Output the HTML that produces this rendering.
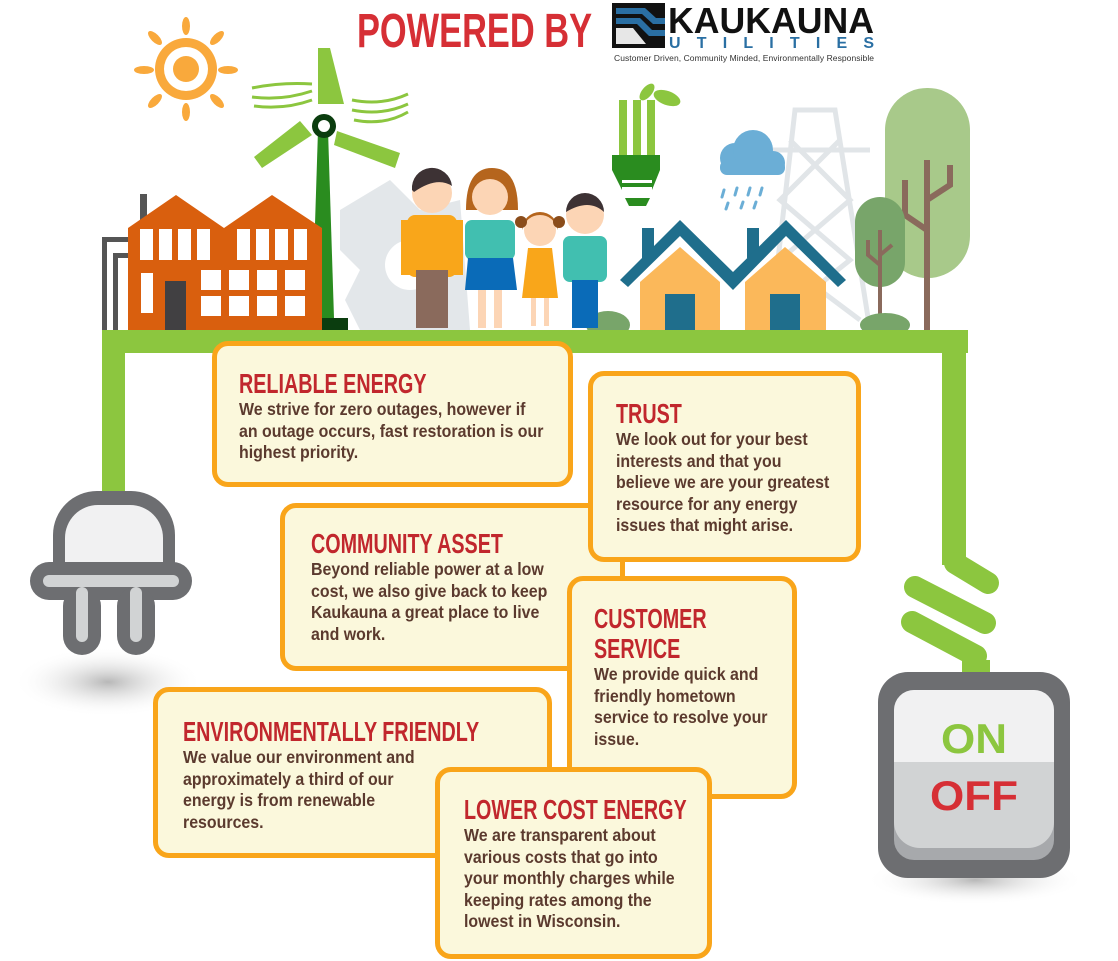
<!DOCTYPE html>
<html><head><meta charset="utf-8"><style>
body{margin:0;width:1118px;height:961px;background:#fff;position:relative;overflow:hidden;font-family:"Liberation Sans",sans-serif}
svg.bg{position:absolute;left:0;top:0}
.box{position:absolute;box-sizing:border-box;background:#fbf8dc;border:5px solid #f9a51a;border-radius:16px;padding:0 0 0 22px;overflow:hidden}
.box h2{margin:0;color:#c1272d;font-size:28px;font-weight:bold;line-height:30px;white-space:nowrap;transform:scaleX(0.705);transform-origin:0 0}
.box p{margin:0;color:#5b3a2e;font-size:17.5px;font-weight:bold;line-height:21.5px;white-space:nowrap;transform:scaleX(0.91);transform-origin:0 0}
</style></head><body>
<svg class="bg" width="1118" height="961" viewBox="0 0 1118 961">
<defs>
<radialGradient id="sh"><stop offset="0" stop-color="#999" stop-opacity=".7"/><stop offset="1" stop-color="#fff" stop-opacity="0"/></radialGradient>
</defs>
<text x="357" y="47" font-family="Liberation Sans,sans-serif" font-weight="bold" font-size="48" fill="#d62f35" textLength="235" lengthAdjust="spacingAndGlyphs">POWERED BY</text>
<rect x="612" y="3" width="53" height="45" fill="#111"/>
<path d="M616 8 L645 8 L656 18 L665 18 L665 24 L653 24 L642 14 L616 14Z" fill="#2a6fa3"/>
<path d="M616 18 L640 18 L652 30 L665 30 L665 36 L649 36 L637 24 L616 24Z" fill="#2a6fa3"/>
<path d="M616 28 L633 28 L646 44 L616 44Z" fill="#fff" opacity=".9"/>
<text x="668" y="33" font-family="Liberation Sans,sans-serif" font-weight="bold" font-size="36" fill="#111" textLength="206" lengthAdjust="spacingAndGlyphs">KAUKAUNA</text>
<text x="669" y="48" font-family="Liberation Sans,sans-serif" font-weight="bold" font-size="16" fill="#2a6fa3" textLength="205" lengthAdjust="spacing">UTILITIES</text>
<text x="614" y="61" font-family="Liberation Sans,sans-serif" font-size="8.5" fill="#333" textLength="260">Customer Driven, Community Minded, Environmentally Responsible</text>
<circle cx="186" cy="69" r="31" fill="#f9a93c"/>
<circle cx="186" cy="69" r="22" fill="#fff"/><circle cx="186" cy="69" r="13" fill="#f9a93c"/>
<g fill="#f9a93c">
<ellipse cx="186" cy="26" rx="4" ry="9"/><ellipse cx="186" cy="112" rx="4" ry="9"/>
<ellipse cx="144" cy="70" rx="10" ry="4"/><ellipse cx="228" cy="70" rx="10" ry="4"/>
<ellipse cx="155" cy="38" rx="4" ry="9" transform="rotate(-45 155 38)"/><ellipse cx="217" cy="38" rx="4" ry="9" transform="rotate(45 217 38)"/>
<ellipse cx="155" cy="101" rx="4" ry="9" transform="rotate(45 155 101)"/><ellipse cx="217" cy="101" rx="4" ry="9" transform="rotate(-45 217 101)"/>
</g>
<g stroke="#8cc63f" stroke-width="3" fill="none">
<path d="M252 88 q30 -6 60 -4"/><path d="M252 97 q30 4 60 -6"/><path d="M254 106 q30 4 58 -6"/>
<path d="M352 100 q30 6 56 -6"/><path d="M352 110 q30 6 56 -6"/><path d="M354 120 q30 6 54 -8"/>
</g>
<polygon points="318,130 328,130 334,318 312,318" fill="#2a8c1f"/>
<rect x="322" y="318" width="26" height="12" fill="#0b3d0f"/>
<polygon points="318,48 330,48 344,104 318,104" fill="#8cc63f"/>
<polygon points="254,157 300,121 312,135 262,168" fill="#8cc63f"/>
<polygon points="337,131 400,153 395,168 334,145" fill="#8cc63f"/>
<circle cx="324" cy="126" r="12" fill="#0b3d0f"/><circle cx="324" cy="126" r="6" fill="#fff"/>
<path d="M340 210 L390 180 L420 210 L460 200 L470 330 L360 330 L345 300 L360 270 L340 250Z" fill="#e3e7ea"/>
<circle cx="410" cy="265" r="25" fill="#fff"/>
<g fill="#555"><rect x="102" y="237" width="5" height="93"/><rect x="102" y="237" width="26" height="5"/><rect x="113" y="253" width="5" height="77"/><rect x="113" y="253" width="15" height="5"/><rect x="140" y="194" width="7" height="30"/></g>
<polygon points="128,228 176,195 224,228 272,195 322,228 322,330 128,330" fill="#d95f0e"/>
<g fill="#fff">
<rect x="140" y="229" width="13" height="31"/><rect x="159" y="229" width="13" height="31"/><rect x="178" y="229" width="13" height="31"/><rect x="197" y="229" width="13" height="31"/>
<rect x="237" y="229" width="13" height="31"/><rect x="256" y="229" width="13" height="31"/><rect x="275" y="229" width="13" height="31"/><rect x="294" y="229" width="13" height="31"/>
<rect x="141" y="273" width="12" height="40"/>
<rect x="201" y="270" width="20" height="20"/><rect x="229" y="270" width="20" height="20"/><rect x="257" y="270" width="20" height="20"/><rect x="285" y="270" width="20" height="20"/>
<rect x="201" y="296" width="20" height="20"/><rect x="229" y="296" width="20" height="20"/><rect x="257" y="296" width="20" height="20"/><rect x="285" y="296" width="20" height="20"/>
</g>
<rect x="165" y="281" width="21" height="49" fill="#414042"/>
<g stroke="#e1e5e8" stroke-width="5" fill="none">
<path d="M770 330 L795 110 L835 110 L870 330"/><path d="M760 150 L870 150"/><path d="M790 140 L850 200 L780 260 L860 320"/><path d="M840 140 L780 200 L850 260 L775 320"/>
</g>
<g fill="#8cc63f"><rect x="619" y="100" width="8" height="55"/><rect x="633" y="100" width="8" height="55"/><rect x="647" y="100" width="8" height="55"/></g>
<path d="M612 155 L660 155 L660 170 L652 190 L622 190 L612 170Z" fill="#2a8c1f"/>
<rect x="622" y="180" width="30" height="3" fill="#fff"/><rect x="622" y="187" width="30" height="3" fill="#fff"/>
<path d="M625 198 L650 198 L646 206 L629 206Z" fill="#2a8c1f"/>
<ellipse cx="667" cy="98" rx="14" ry="7" fill="#8cc63f" transform="rotate(20 667 98)"/>
<ellipse cx="647" cy="92" rx="10" ry="5" fill="#8cc63f" transform="rotate(-50 647 92)"/>
<g fill="#6baed6"><circle cx="735" cy="158" r="15"/><circle cx="753" cy="150" r="20"/><circle cx="773" cy="163" r="12"/><rect x="720" y="160" width="65" height="15" rx="7"/></g>
<g stroke="#6baed6" stroke-width="3" stroke-linecap="round"><path d="M724 190 l-2 7"/><path d="M737 188 l-2 7"/><path d="M750 188 l-2 7"/><path d="M762 188 l-2 7"/><path d="M728 203 l-2 6"/><path d="M743 202 l-2 6"/><path d="M756 202 l-2 6"/></g>
<rect x="885" y="88" width="85" height="190" rx="42" fill="#a8c98a"/>
<g stroke="#8a6a5c" stroke-width="6" fill="none"><path d="M927 330 L927 160"/><path d="M927 230 L905 215 L905 180"/><path d="M927 200 L950 185 L950 165"/></g>
<rect x="855" y="197" width="50" height="90" rx="25" fill="#78a56a"/>
<g stroke="#8a6a5c" stroke-width="4" fill="none"><path d="M880 320 L880 230"/><path d="M880 265 L868 255 L868 240"/><path d="M880 255 L892 245"/></g>
<ellipse cx="608" cy="325" rx="22" ry="14" fill="#78a56a"/><ellipse cx="885" cy="325" rx="25" ry="12" fill="#78a56a"/>
<g fill="#1f6e8c">
<rect x="642" y="228" width="12" height="30"/><rect x="747" y="228" width="12" height="30"/>
<path d="M620 280 L680 220 L733 272 L786 220 L846 280 L838 287 L786 236 L733 290 L680 236 L628 287Z"/>
</g>
<polygon points="640,282 680,247 720,282 720,330 640,330" fill="#fbb85a"/>
<polygon points="745,282 785,247 826,282 826,330 745,330" fill="#fbb85a"/>
<rect x="665" y="294" width="30" height="36" fill="#1f6e8c"/><rect x="770" y="294" width="30" height="36" fill="#1f6e8c"/>
<g>
<circle cx="432" cy="193" r="20" fill="#fcd5b5"/><path d="M412 190 a20 20 0 0 1 40 -4 q-15 -10 -38 6z" fill="#3d3234"/>
<rect x="407" y="215" width="50" height="62" rx="8" fill="#f9a61a"/><rect x="401" y="220" width="10" height="55" fill="#f9a61a"/><rect x="453" y="220" width="10" height="55" fill="#f9a61a"/>
<rect x="416" y="270" width="32" height="58" fill="#8a6a5c"/>
<path d="M466 210 q0 -42 26 -42 q26 0 26 42z" fill="#b5651d"/>
<circle cx="490" cy="197" r="18" fill="#fcd5b5"/>
<rect x="465" y="220" width="50" height="40" rx="7" fill="#41bfb0"/>
<polygon points="468,258 513,258 517,290 465,290" fill="#0a6bb8"/>
<rect x="478" y="290" width="8" height="38" fill="#fcd5b5"/><rect x="494" y="290" width="8" height="38" fill="#fcd5b5"/>
<circle cx="540" cy="230" r="16" fill="#fcd5b5"/><path d="M522 230 a18 18 0 0 1 36 0 q-5 -15 -18 -15 q-13 0 -18 15z" fill="#b5651d"/>
<circle cx="521" cy="222" r="6" fill="#8a4c1a"/><circle cx="559" cy="222" r="6" fill="#8a4c1a"/>
<polygon points="528,248 552,248 558,298 522,298" fill="#f9a61a"/>
<rect x="531" y="298" width="5" height="28" fill="#fcd5b5"/><rect x="544" y="298" width="5" height="28" fill="#fcd5b5"/>
<circle cx="585" cy="215" r="19" fill="#fcd5b5"/><path d="M566 212 a19 19 0 0 1 38 0 q-15 -14 -38 0z" fill="#3d3234"/>
<rect x="563" y="236" width="44" height="46" rx="7" fill="#41bfb0"/>
<rect x="572" y="280" width="26" height="48" fill="#0a6bb8"/>
</g>
<g fill="#8cc63f">
<rect x="102" y="330" width="866" height="23"/>
<rect x="102" y="330" width="23" height="165"/>
<rect x="942" y="330" width="24" height="235"/>
<rect x="962" y="660" width="28" height="14"/>
</g>
<g stroke="#8cc63f" stroke-width="22" stroke-linecap="round" fill="none"><path d="M955 563 L988 583"/><path d="M915 587 L985 623"/><path d="M912 622 L976 656"/></g>
<ellipse cx="108" cy="682" rx="95" ry="35" fill="url(#sh)"/>
<path d="M53 535 a44 44 0 0 1 44 -44 h34 a44 44 0 0 1 44 44 v40 h-122z" fill="#6d6e71"/>
<path d="M65 538 a33 33 0 0 1 33 -33 h32 a33 33 0 0 1 33 33 v35 h-98z" fill="#f1f1f2"/>
<rect x="30" y="562" width="162" height="38" rx="19" fill="#6d6e71"/>
<rect x="43" y="575" width="136" height="12" rx="6" fill="#d1d3d4"/>
<rect x="63" y="587" width="38" height="68" rx="19" fill="#6d6e71"/><rect x="117" y="587" width="38" height="68" rx="19" fill="#6d6e71"/>
<rect x="76" y="587" width="12" height="55" rx="6" fill="#d1d3d4"/><rect x="130" y="587" width="12" height="55" rx="6" fill="#d1d3d4"/>
<ellipse cx="975" cy="880" rx="110" ry="25" fill="url(#sh)"/>
<rect x="878" y="672" width="192" height="206" rx="30" fill="#6d6e71"/>
<rect x="894" y="690" width="160" height="170" rx="20" fill="#a7a9ac"/>
<path d="M894 762 h160 v60 a26 26 0 0 1 -26 26 h-108 a26 26 0 0 1 -26 -26z" fill="#d1d3d4"/>
<path d="M894 710 a20 20 0 0 1 20 -20 h120 a20 20 0 0 1 20 20 v52 h-160z" fill="#f1f1f2"/>
<text x="974" y="753" text-anchor="middle" font-family="Liberation Sans,sans-serif" font-weight="bold" font-size="42" fill="#8cc63f" textLength="66" lengthAdjust="spacingAndGlyphs">ON</text>
<text x="974" y="810" text-anchor="middle" font-family="Liberation Sans,sans-serif" font-weight="bold" font-size="42" fill="#d62f35" textLength="88" lengthAdjust="spacingAndGlyphs">OFF</text>
</svg>

<div class="box" style="left:280px;top:503px;width:345px;height:168px;padding-top:21px;padding-left:26px"><h2>COMMUNITY ASSET</h2><p>Beyond reliable power at a low<br>cost, we also give back to keep<br>Kaukauna a great place to live<br>and work.</p></div>
<div class="box" style="left:212px;top:341px;width:361px;height:146px;padding-top:23px;padding-left:22px"><h2>RELIABLE ENERGY</h2><p>We strive for zero outages, however if<br>an outage occurs, fast restoration is our<br>highest priority.</p></div>
<div class="box" style="left:588px;top:371px;width:273px;height:191px;padding-top:23px;padding-left:23px"><h2>TRUST</h2><p>We look out for your best<br>interests and that you<br>believe we are your greatest<br>resource for any energy<br>issues that might arise.</p></div>
<div class="box" style="left:567px;top:576px;width:230px;height:223px;padding-top:23px;padding-left:22px"><h2>CUSTOMER<br>SERVICE</h2><p>We provide quick and<br>friendly hometown<br>service to resolve your<br>issue.</p></div>
<div class="box" style="left:153px;top:687px;width:399px;height:171px;padding-top:25px;padding-left:25px"><h2>ENVIRONMENTALLY FRIENDLY</h2><p>We value our environment and<br>approximately a third of our<br>energy is from renewable<br>resources.</p></div>
<div class="box" style="left:435px;top:767px;width:277px;height:192px;padding-top:23px;padding-left:24px"><h2>LOWER COST ENERGY</h2><p>We are transparent about<br>various costs that go into<br>your monthly charges while<br>keeping rates among the<br>lowest in Wisconsin.</p></div>
</body></html>
